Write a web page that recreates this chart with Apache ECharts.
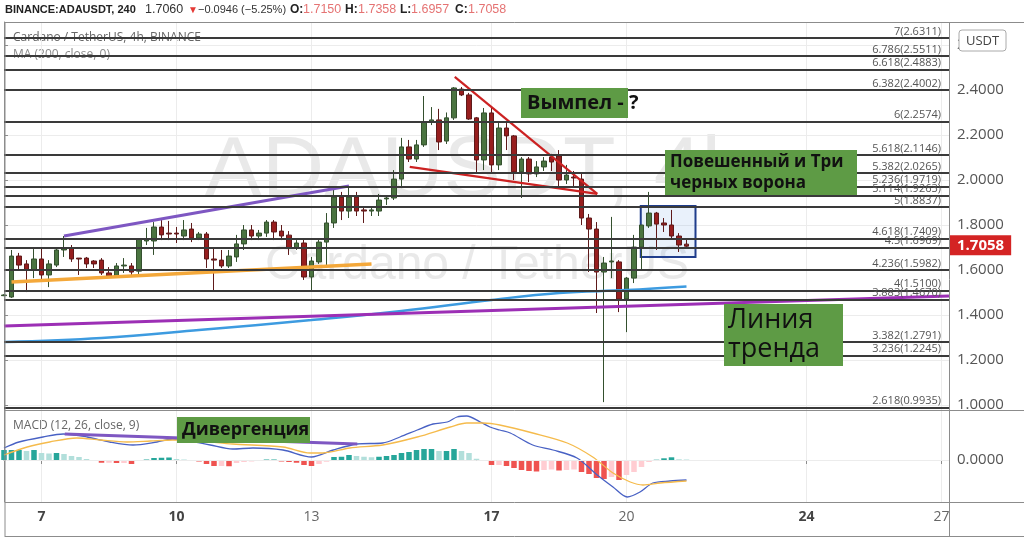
<!DOCTYPE html>
<html>
<head>
<meta charset="utf-8">
<script src="https://cdn.jsdelivr.net/npm/echarts@6/dist/echarts.min.js"></script>
<style>
html,body{margin:0;padding:0;background:#fff}
#chart{width:1024px;height:540px}
</style>
</head>
<body>
<div id="chart"></div>
<script>
// ---- time slots: 4h bars, first slot = day 6 04:00 ----
const firstDay = 6, firstHour = 4, slotCount = 127;
const dayLabels = ['7', '10', '13', '17', '20', '24', '27'];
const boldDays = ['7', '10', '17', '24'];
const categories = [];
for (let i = 0; i < slotCount; i++) {
  const t = firstHour + i * 4;
  const day = firstDay + Math.floor(t / 24);
  const hour = t % 24;
  categories.push(day + ' ' + String(hour).padStart(2, '0') + ':00');
}

// ---- ADA/USDT 4h candles: [open, high, low, close] ----
const candles = [
  [1.486,1.492,1.484,1.489],[1.480,1.689,1.476,1.662],[1.662,1.676,1.600,1.622],[1.627,1.644,1.502,1.600],
  [1.600,1.693,1.564,1.649],[1.649,1.698,1.556,1.578],[1.578,1.644,1.524,1.627],[1.622,1.702,1.613,1.689],
  [1.689,1.751,1.658,1.698],[1.698,1.711,1.636,1.649],[1.653,1.653,1.578,1.649],[1.653,1.658,1.609,1.627],
  [1.640,1.644,1.609,1.627],[1.644,1.653,1.578,1.587],[1.587,1.613,1.569,1.573],[1.573,1.631,1.569,1.618],
  [1.618,1.653,1.587,1.622],[1.618,1.631,1.578,1.591],[1.595,1.742,1.578,1.738],[1.729,1.787,1.711,1.738],
  [1.729,1.813,1.667,1.791],[1.791,1.822,1.733,1.756],[1.764,1.818,1.733,1.760],[1.764,1.791,1.720,1.760],
  [1.751,1.822,1.733,1.778],[1.782,1.809,1.724,1.742],[1.742,1.769,1.733,1.760],[1.760,1.769,1.609,1.649],
  [1.649,1.702,1.511,1.644],[1.644,1.689,1.609,1.618],[1.618,1.689,1.609,1.662],[1.658,1.756,1.636,1.716],
  [1.716,1.800,1.689,1.778],[1.778,1.800,1.733,1.751],[1.751,1.778,1.733,1.764],[1.764,1.822,1.747,1.813],
  [1.813,1.822,1.733,1.769],[1.773,1.800,1.733,1.751],[1.755,1.773,1.667,1.698],[1.698,1.733,1.689,1.720],
  [1.720,1.742,1.556,1.569],[1.569,1.658,1.511,1.640],[1.636,1.742,1.627,1.724],[1.724,1.853,1.613,1.809],
  [1.809,1.956,1.787,1.924],[1.924,1.947,1.822,1.862],[1.862,1.969,1.831,1.924],[1.924,1.947,1.840,1.862],
  [1.867,1.876,1.809,1.862],[1.862,1.884,1.840,1.867],[1.862,1.938,1.840,1.911],[1.916,1.933,1.889,1.920],
  [1.920,2.044,1.911,2.004],[2.004,2.187,1.964,2.147],[2.147,2.178,2.080,2.093],[2.093,2.178,2.080,2.156],
  [2.156,2.373,2.147,2.258],[2.258,2.324,2.244,2.267],[2.267,2.316,2.133,2.169],[2.173,2.300,2.160,2.276],
  [2.276,2.413,2.267,2.409],[2.404,2.413,2.373,2.378],[2.378,2.387,2.267,2.271],[2.276,2.280,2.031,2.089],
  [2.089,2.320,2.044,2.298],[2.298,2.320,2.031,2.067],[2.067,2.253,2.044,2.231],[2.231,2.253,2.133,2.196],
  [2.196,2.200,2.000,2.036],[2.036,2.102,1.920,2.093],[2.093,2.102,1.991,2.027],[2.027,2.084,2.013,2.058],
  [2.058,2.102,2.040,2.084],[2.102,2.116,2.040,2.080],[2.107,2.133,1.964,2.000],[2.000,2.067,1.982,2.022],
  [2.013,2.040,1.969,2.009],[2.004,2.031,1.800,1.831],[1.831,1.849,1.591,1.782],[1.782,1.813,1.409,1.591],
  [1.591,1.658,1.013,1.631],[1.636,1.836,1.564,1.640],[1.636,1.644,1.413,1.471],[1.471,1.569,1.324,1.564],
  [1.564,1.756,1.542,1.702],[1.702,1.800,1.600,1.800],[1.796,1.947,1.787,1.853],[1.853,1.858,1.689,1.804],
  [1.809,1.831,1.769,1.800],[1.800,1.867,1.742,1.751],[1.751,1.764,1.680,1.711],[1.7150,1.7358,1.6957,1.7058]
];
const lastClose = candles[candles.length - 1][3];

// ---- header quote ----
const symbolTitle = 'BINANCE:ADAUSDT, 240';
const lastPrice = '1.7060';
const change = '−0.0946 (−5.25%)';
const ohlcNames = ['O:', 'H:', 'L:', 'C:'];
const ohlcValues = ['1.7150', '1.7358', '1.6957', '1.7058'];

// ---- MA(200) sampled along the bars: [barIndex, value] ----
const maPoints = [[0,1.280],[13,1.298],[26,1.333],[41,1.378],[53,1.418],[65,1.467],[74,1.498],[83,1.511],[91,1.527]];

// ---- Fibonacci extension levels ----
const fibRatios = ['7','6.786','6.618','6.382','6','5.618','5.382','5.236','5.114','5','4.618','4.5','4.236','4','3.883','3.382','3.236','2.618'];
const fibPrices = [2.6311,2.5511,2.4883,2.4002,2.2574,2.1146,2.0265,1.9719,1.9263,1.8837,1.7409,1.6969,1.5982,1.5100,1.4670,1.2791,1.2245,0.9935];

// ---- hand-drawn lines: [barIndex, price] ----
const trendLine = [[0,1.351],[126,1.484]];
const upperLine = [[8,1.751],[46,1.973]];
const supportLine = [[1,1.547],[49,1.627]];
const pennantTop = [[60.1,2.458],[79.1,1.938]];
const pennantBottom = [[54.1,2.058],[79.1,1.938]];
const patternBox = [[84.9,1.884],[92.2,1.658]];

// ---- MACD (12, 26, close, 9) ----
const macdLine = [[0,0.024],[2,0.036],[5.2,0.046],[7.9,0.052],[11.1,0.046],[14.1,0.036],[17.2,0.030],[20.4,0.036],[22.5,0.042],[24.8,0.038],[27.5,0.030],[30.5,0.022],[33.2,0.024],[37.2,0.020],[41,0.006],[43.9,0.020],[47.1,0.032],[50.5,0.034],[52.8,0.046],[55.1,0.060],[57.2,0.072],[59.1,0.076],[60.4,0.086],[61.7,0.088],[63.5,0.076],[64.8,0.066],[66.1,0.060],[67.5,0.054],[70.5,0.030],[73.2,0.020],[76.4,0.004],[79.1,-0.030],[81.2,-0.054],[83.1,-0.074],[84.8,-0.064],[86.5,-0.046],[88.8,-0.042],[91,-0.040]];
const signalLine = [[0,0.010],[3.1,0.026],[6.1,0.036],[9.7,0.044],[12.8,0.040],[16.4,0.036],[19.5,0.038],[22.5,0.040],[26.1,0.038],[30.5,0.032],[37.2,0.026],[40.8,0.014],[42.5,0.014],[46.1,0.024],[50.5,0.030],[55.1,0.046],[59.5,0.066],[61.7,0.074],[63.9,0.074],[66.1,0.070],[70.5,0.054],[75.1,0.034],[78.5,0.006],[81.2,-0.026],[83.5,-0.044],[85.2,-0.050],[87.5,-0.046],[91,-0.042]];
const macdHist = [
  0.020,0.020,0.020,0.018,0.020,0.014,0.013,0.014,0.012,0.008,0.006,0.002,-0.001,-0.0055,-0.0055,-0.006,
  -0.006,-0.008,-0.002,0.001,0.004,0.0045,0.005,0.002,0.001,-0.001,-0.003,-0.008,-0.012,-0.012,-0.0125,-0.006,
  -0.004,-0.003,-0.002,0.001,0.001,-0.003,-0.004,-0.0055,-0.010,-0.012,-0.008,-0.0035,0.006,0.0065,0.010,0.008,
  0.0065,0.0055,0.0065,0.008,0.010,0.014,0.016,0.020,0.022,0.022,0.018,0.018,0.022,0.018,0.014,0.0025,
  -0.001,-0.010,-0.010,-0.012,-0.016,-0.020,-0.022,-0.023,-0.020,-0.019,-0.021,-0.020,-0.019,-0.024,-0.028,-0.036,
  -0.038,-0.034,-0.040,-0.030,-0.024,-0.014,-0.004,0.0006,0.0034,0.0054,0.0014,0.001
];
const divergenceLine = [[8.1,0.052],[47.1,0.032]];

const histColors = macdHist.map((h, i) => {
  const prev = i > 0 ? macdHist[i - 1] : h;
  if (h >= 0) return h >= prev ? '#26a69a' : '#b2dfdb';
  return h < prev ? '#ef5350' : '#ffcdd2';
});

const isDayTick = (idx, val) => {
  const parts = String(val).split(' ');
  return parts[1] === '00:00' && dayLabels.indexOf(parts[0]) >= 0;
};

const chart = echarts.init(document.getElementById('chart'), null, {renderer: 'canvas'});
const FONT = '"Open Sans", "Noto Sans", sans-serif';
const NARROW = '"Liberation Sans", Arial, sans-serif';
const gridLineColor = '#ececec';
const frameColor = '#8c8c8c';

function lineSeries(data, color, width, extra) {
  return Object.assign({
    type: 'line', xAxisIndex: 2, yAxisIndex: 0, data: data, symbol: 'none',
    silent: true, lineStyle: {color: color, width: width}, z: 4
  }, extra || {});
}

// green note with one or more text lines, drawn above every series
function noteBox(x, y, w, h, lines, fontSize, fontWeight, lineH, padX) {
  const els = [{type: 'rect', z: 40, silent: true, shape: {x: x, y: y, width: w, height: h}, style: {fill: '#5e9b45'}}];
  lines.forEach((t, k) => {
    els.push({type: 'text', z: 41, silent: true, x: x + padX, y: y + lineH * (k + 0.5) + (h - lineH * lines.length) / 2,
      style: {text: t, fill: '#111', font: fontWeight + ' ' + fontSize + 'px ' + FONT, textVerticalAlign: 'middle', textAlign: 'left'}});
  });
  return els;
}

function headerText(x, text, color, weight, size, family) {
  return {type: 'text', x: x, y: 10, z: 30, silent: true,
    style: {text: text, fill: color, font: (weight || 'normal') + ' ' + (size || 12) + 'px ' + (family || NARROW),
            textAlign: 'left', textVerticalAlign: 'middle'}};
}

// header row: title, last price, change and OHLC pairs
const headerEls = [
  headerText(5, symbolTitle, '#222', 'bold', 11),
  headerText(145, lastPrice, '#333', 'normal', 12.5),
  headerText(188, '▼', '#e53935', 'normal', 10),
  headerText(198, change, '#333', 'normal', 11)
];
const ohlcX = [290, 345, 400, 455];
ohlcNames.forEach((n, k) => {
  headerEls.push(headerText(ohlcX[k], n, '#222', 'bold', 12));
  headerEls.push(headerText(ohlcX[k] + (n === 'L:' ? 11 : 13), ohlcValues[k], '#e57373', 'normal', 12.5));
});

const option = {
  animation: false,
  backgroundColor: '#fff',
  textStyle: {fontFamily: FONT},
  grid: [
    {left: 4, width: 945, top: 22, height: 388},
    {left: 4, width: 945, top: 410, height: 92}
  ],
  xAxis: [
    {type: 'category', gridIndex: 0, data: categories, boundaryGap: false,
     axisLine: {show: false}, axisTick: {show: false}, axisLabel: {show: false},
     splitLine: {show: true, interval: isDayTick, lineStyle: {color: gridLineColor}}},
    {type: 'category', gridIndex: 1, data: categories, boundaryGap: false,
     axisLine: {show: true, lineStyle: {color: frameColor}},
     axisTick: {show: true, interval: isDayTick, length: 4, lineStyle: {color: frameColor}},
     axisLabel: {interval: isDayTick, margin: 8,
       formatter: v => { const d = v.split(' ')[0]; return boldDays.indexOf(d) >= 0 ? '{b|' + d + '}' : '{n|' + d + '}'; },
       rich: {b: {fontSize: 14, fontWeight: 'bold', color: '#444', fontFamily: FONT},
              n: {fontSize: 14, color: '#666', fontFamily: FONT}}},
     splitLine: {show: true, interval: isDayTick, lineStyle: {color: gridLineColor}}},
    {type: 'value', gridIndex: 0, min: 0, max: slotCount - 1, show: false},
    {type: 'value', gridIndex: 1, min: 0, max: slotCount - 1, show: false}
  ],
  yAxis: [
    {type: 'value', gridIndex: 0, position: 'right', min: 0.978, max: 2.702, splitNumber: 8,
     axisLine: {show: true, lineStyle: {color: frameColor}},
     axisTick: {show: true, length: 4, lineStyle: {color: frameColor}},
     axisLabel: {formatter: v => v.toFixed(4), fontSize: 15, color: '#555', margin: 8, showMinLabel: false, showMaxLabel: false},
     splitLine: {show: true, lineStyle: {color: gridLineColor}}},
    {type: 'value', gridIndex: 1, position: 'right', min: -0.084, max: 0.1,
     axisLine: {show: true, lineStyle: {color: frameColor}},
     axisTick: {show: true, length: 4, customValues: [0], lineStyle: {color: frameColor}},
     axisLabel: {customValues: [0], formatter: v => (Math.abs(v) < 1e-9 ? '0.0000' : ''), fontSize: 15, color: '#555', margin: 8},
     splitLine: {show: false}}
  ],
  series: [
    {
      type: 'candlestick', name: 'ADAUSDT', xAxisIndex: 0, yAxisIndex: 0, barWidth: 5, z: 3,
      data: candles.map(c => [c[0], c[3], c[2], c[1]]),
      itemStyle: {color: '#4a7440', color0: '#971e1e', borderColor: '#34502e', borderColor0: '#5e1a1a', borderWidth: 1},
      markLine: {
        silent: true, symbol: ['none', 'none'], animation: false,
        lineStyle: {color: '#3a3a3a', width: 2, type: 'solid'},
        label: {position: 'insideEndTop', color: '#555', fontSize: 11, fontFamily: FONT, distance: [8, 1]},
        data: fibPrices.map((p, k) => ({yAxis: p, label: {formatter: fibRatios[k] + '(' + p.toFixed(4) + ')'}}))
      }
    },
    lineSeries(maPoints, '#3d9be0', 2.5, {smooth: 0.4,
      markLine: {
        silent: true, symbol: ['none', 'none'], animation: false,
        lineStyle: {color: 'rgba(0,0,0,0)', width: 1},
        label: {show: true, position: 'end', distance: 1, backgroundColor: '#d42424', color: '#fff', fontWeight: 'bold',
                fontSize: 15, fontFamily: FONT, padding: [3, 7, 2, 7], formatter: () => lastClose.toFixed(4)},
        data: [{yAxis: lastClose}]
      }}),
    lineSeries(trendLine, '#9c2fb5', 3),
    lineSeries(upperLine, '#7e57c2', 3),
    lineSeries(supportLine, '#f4a83a', 3.5),
    lineSeries(pennantTop, '#cc2222', 2.2),
    lineSeries(pennantBottom, '#cc2222', 2.2, {
      markArea: {silent: true,
        itemStyle: {color: 'rgba(120,170,230,0.16)', borderColor: '#1f3d8c', borderWidth: 2},
        data: [[{coord: patternBox[0]}, {coord: patternBox[1]}]]}
    }),
    {
      type: 'bar', xAxisIndex: 1, yAxisIndex: 1, barWidth: 5.5, silent: true,
      data: macdHist.map((v, i) => ({value: v, itemStyle: {color: histColors[i]}})),
      markLine: {silent: true, symbol: ['none', 'none'], animation: false,
        lineStyle: {color: gridLineColor, width: 1, type: 'solid'}, label: {show: false}, data: [{yAxis: 0}]}
    },
    {type: 'line', xAxisIndex: 3, yAxisIndex: 1, data: macdLine, symbol: 'none', smooth: 0.3, silent: true,
     lineStyle: {color: '#4861c4', width: 1.3}, z: 4},
    {type: 'line', xAxisIndex: 3, yAxisIndex: 1, data: signalLine, symbol: 'none', smooth: 0.3, silent: true,
     lineStyle: {color: '#f5bb4c', width: 1.3}, z: 4},
    {type: 'line', xAxisIndex: 3, yAxisIndex: 1, data: divergenceLine, symbol: 'none', silent: true,
     lineStyle: {color: '#7e57c2', width: 3}, z: 5}
  ],
  graphic: {elements: [
    // watermark
    {type: 'text', x: 477, y: 172, z: 0, silent: true,
     style: {text: 'ADAUSDT, 4h', fill: '#e9e9e9', font: '86px "Liberation Sans", sans-serif', textAlign: 'center', textVerticalAlign: 'middle'}},
    {type: 'text', x: 477, y: 266, z: 0, silent: true,
     style: {text: 'Cardano / TetherUS', fill: '#e9e9e9', font: '48px "Liberation Sans", sans-serif', textAlign: 'center', textVerticalAlign: 'middle'}},
    // pane legends
    {type: 'text', x: 13, y: 38, z: 0, silent: true,
     style: {text: 'Cardano / TetherUS, 4h, BINANCE', fill: '#666', font: '12px ' + FONT, textVerticalAlign: 'middle'}},
    {type: 'text', x: 13, y: 55, z: 0, silent: true,
     style: {text: 'MA (200, close, 0)', fill: '#888', font: '12px ' + FONT, textVerticalAlign: 'middle'}},
    {type: 'text', x: 13, y: 426, z: 0, silent: true,
     style: {text: 'MACD (12, 26, close, 9)', fill: '#666', font: '12px ' + FONT, textVerticalAlign: 'middle'}},
    // frame
    {type: 'polyline', z: 25, silent: true, shape: {points: [[5, 537], [5, 22.5], [1024, 22.5]]}, style: {stroke: frameColor, lineWidth: 1, fill: null}},
    {type: 'line', z: 25, silent: true, shape: {x1: 5, y1: 410.5, x2: 1024, y2: 410.5}, style: {stroke: frameColor, lineWidth: 1}},
    {type: 'line', z: 25, silent: true, shape: {x1: 5, y1: 502.5, x2: 1024, y2: 502.5}, style: {stroke: frameColor, lineWidth: 1}},
    {type: 'line', z: 25, silent: true, shape: {x1: 5, y1: 536.5, x2: 1024, y2: 536.5}, style: {stroke: frameColor, lineWidth: 1}},
    {type: 'line', z: 25, silent: true, shape: {x1: 949.5, y1: 22, x2: 949.5, y2: 537}, style: {stroke: frameColor, lineWidth: 1}},
    // currency badge
    {type: 'rect', z: 30, silent: true, shape: {x: 959, y: 30, width: 47, height: 21, r: 3},
     style: {fill: '#fff', stroke: '#aaa', lineWidth: 1}},
    {type: 'text', x: 982.5, y: 41, z: 31, silent: true,
     style: {text: 'USDT', fill: '#444', font: '13px ' + FONT, textAlign: 'center', textVerticalAlign: 'middle'}}
  ].concat(
    headerEls,
    noteBox(521, 88, 107, 30, ['Вымпел - ?'], 20, 'bold', 26, 6),
    noteBox(665, 150, 192, 45, ['Повешенный и Три', 'черных ворона'], 17, 'bold', 21, 5),
    noteBox(724, 304, 119, 62, ['Линия', 'тренда'], 27, 'normal', 29, 4),
    noteBox(177, 417, 133, 26, ['Дивергенция'], 18, 'bold', 24, 5)
  )}
};
chart.setOption(option);
</script>
</body>
</html>
